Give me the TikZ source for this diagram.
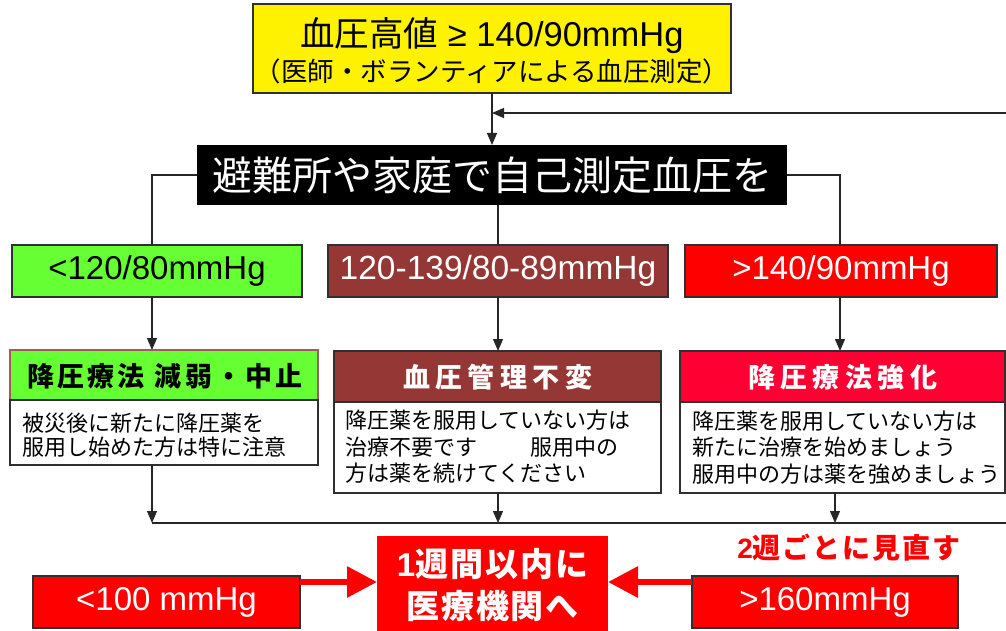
\documentclass[tikz,border=0pt]{standalone}
\usepackage{fontspec}
\setmainfont{Liberation Sans}
\newfontfamily\jp{Noto Sans CJK JP}
\usetikzlibrary{arrows.meta,calc}
\definecolor{lgreen}{HTML}{66FF33}
\definecolor{brownr}{HTML}{953735}
\definecolor{crim}{HTML}{FF0033}
\definecolor{pred}{HTML}{FF0000}
\definecolor{bord}{HTML}{303030}
\definecolor{titleb}{HTML}{A05A5A}
\newcommand\fs[1]{\fontsize{#1}{#1}\selectfont}
\begin{document}
\begin{tikzpicture}[x=1pt,y=-1pt,
  every node/.style={inner sep=0pt, outer sep=0pt},
  conn/.style={line width=1.2pt, draw=black!85},
  arr/.style={conn, -{Triangle[width=10pt,length=12pt]}},
  fat/.style={line width=6pt, draw=pred, -{Triangle[width=30pt,length=30pt]}},
  boxed/.style={draw=bord, line width=1.5pt},
  titlebox/.style={line width=1.2pt, minimum height=51pt},
  bodybox/.style={draw=bord, line width=1.5pt, fill=white},
  bodytxt/.style={anchor=west, align=left, font=\jp\fontsize{22}{26.5}\selectfont},
  ttl/.style={font=\jp\bfseries\fs{27}},
  rowtxt/.style={font=\fs{33}}]
\useasboundingbox (0,0) rectangle (1006,631);
\fill[white] (0,0) rectangle (1006,631);

% named helper coordinates
\coordinate (xL) at (152,0);
\coordinate (xM) at (498,0);
\coordinate (xR) at (840,0);
\coordinate (xR2) at (835,0);
\coordinate (yB) at (0,523);
\coordinate (fbY) at (0,113);
\coordinate (loopR) at (1030,0);
\coordinate (yA) at (0,582);

% top box
\node[boxed, fill=yellow, minimum width=478pt, minimum height=89pt] (top) at (492,48.5) {};
\node[font=\fs{34.5}] (t1) at (492,36) {{\jp 血圧高値} ≥ 140/90mmHg};
\node[font=\jp\fs{26.5}] (t2) at (492,71) {（医師・ボランティアによる血圧測定）};

% black box
\node[fill=black, text=white, minimum width=590pt, minimum height=60pt, font=\jp\fs{40}] (self) at (492,175) {避難所や家庭で自己測定血圧を};

% row 2
\node[boxed, fill=lgreen, minimum width=290pt, minimum height=52pt, rowtxt] (g1) at (157,271) {<120/80mmHg};
\node[boxed, fill=brownr, text=white, minimum width=340pt, minimum height=52pt, font=\fs{33.5}] (b1) at (498,271) {120-139/80-89mmHg};
\node[boxed, fill=pred, text=white, minimum width=312pt, minimum height=52pt, rowtxt] (r1) at (841,271) {>140/90mmHg};

% title boxes
\node[titlebox, draw=titleb, fill=lgreen, minimum width=308pt, minimum height=50pt] (g2) at (164,375) {};
\node[ttl] (g2t) at (165,376) {\addfontfeature{LetterSpace=12}降圧療法\hspace{10pt}減弱・中止};
\node[titlebox, draw=bord, fill=brownr, minimum width=327pt] (b2) at (497.5,376.5) {};
\node[ttl, text=white] (b2t) at (497.5,377) {\addfontfeature{LetterSpace=20}血圧管理不変};
\node[titlebox, draw=bord, fill=crim, minimum width=325pt] (r2) at (842.5,376.5) {};
\node[ttl, text=white] (r2t) at (842.5,377) {\addfontfeature{LetterSpace=20}降圧療法強化};

% body boxes
\node[bodybox, minimum width=308pt, minimum height=65pt] (g3) at (164,432.5) {};
\node[bodytxt, font=\jp\fontsize{22}{24.5}\selectfont] (g3t) at (22,435) {被災後に新たに降圧薬を\\服用し始めた方は特に注意};
\node[bodybox, minimum width=327pt, minimum height=91pt] (b3) at (497.5,447.5) {};
\node[bodytxt] (b3t) at (345,447) {降圧薬を服用していない方は\\治療不要です\hspace*{53pt}服用中の\\方は薬を続けてください};
\node[bodybox, minimum width=325pt, minimum height=91pt] (r3) at (842.5,447.5) {};
\node[bodytxt] (r3t) at (692,447.5) {降圧薬を服用していない方は\\新たに治療を始めましょう\\服用中の方は薬を強めましょう};

% bottom boxes
\node[fill=pred, minimum width=231pt, minimum height=104pt] (ctr) at (492.5,588) {};
\node[text=white, align=center, font=\bfseries\fontsize{33}{42}\selectfont] (ctrt) at (492.5,585)
  {1{\jp\addfontfeature{LetterSpace=6}週間以内に}\\{\jp\addfontfeature{LetterSpace=6}医療機関へ}};
\node[boxed, fill=pred, text=white, minimum width=267pt, minimum height=52pt, font=\fs{33}] (lo) at (166.5,602) {<100 mmHg};
\node[boxed, fill=pred, text=white, minimum width=266pt, minimum height=52pt, font=\fs{33}] (hi) at (825,602) {>160mmHg};
\node[text=pred, font=\bfseries\fs{28}] (rev) at (849,548) {2{\jp\addfontfeature{LetterSpace=7}週ごとに見直す}};

% connectors
\draw[arr] (top.south) -- (self.north);
\draw[conn] (self.west) -| (xL |- g1.north);
\draw[conn] (self.east) -| (xR |- r1.north);
\draw[conn] (self.south -| xM) -- (xM |- b1.north);
\draw[arr] (xL |- g1.south) -- (xL |- g2.north);
\draw[arr] (xM |- b1.south) -- (xM |- b2.north);
\draw[arr] (xR |- r1.south) -- (xR |- r2.north);
\draw[arr] (xL |- g3.south) -- (xL |- yB);
\draw[arr] (xM |- b3.south) -- (xM |- yB);
\draw[arr] (xR2 |- r3.south) -- (xR2 |- yB);
\draw[arr] (xL |- yB) -- (loopR |- yB) -- (loopR |- fbY) -- (fbY -| top.south);
\draw[fat] (yA -| lo.east) -- (yA -| ctr.west);
\draw[fat] (yA -| hi.west) -- (yA -| ctr.east);
\end{tikzpicture}
\end{document}
